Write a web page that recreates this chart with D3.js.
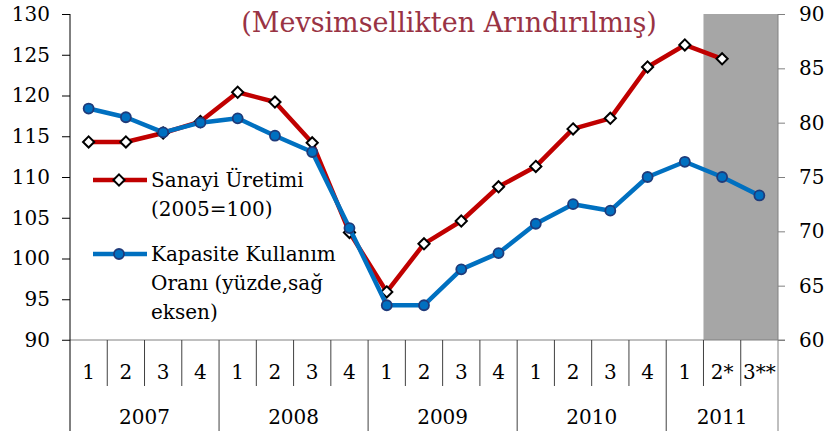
<!DOCTYPE html>
<meta charset="utf-8">
<style>
body { margin: 0; background: #fff; }
text { font-family: "DejaVu Serif", serif; }
</style>
<body>
<script src="https://cdnjs.cloudflare.com/ajax/libs/d3/7.8.5/d3.min.js"></script>
<script>

// data
var quarters = ["1","2","3","4","1","2","3","4","1","2","3","4","1","2","3","4","1","2*","3**"];
var years = ["2007","2008","2009","2010","2011"];
var yearSpan = [4, 4, 4, 4, 3];
var sanayi = [114.3, 114.3, 115.4, 116.8, 120.4, 119.2, 114.2, 103.2, 95.9, 101.8, 104.6, 108.8,
              111.3, 115.9, 117.2, 123.5, 126.2, 124.5];
var kapasite = [81.3, 80.5, 79.1, 80.0, 80.4, 78.8, 77.3, 70.3, 63.2, 63.2, 66.5, 68.0,
                70.7, 72.5, 71.9, 75.0, 76.4, 75.0, 73.3];
var leftTicks = [90, 95, 100, 105, 110, 115, 120, 125, 130];
var rightTicks = [60, 65, 70, 75, 80, 85, 90];
var shaded = [17, 18]; // forecast quarters

var width = 829, height = 433;
var plot = {left: 70, right: 778, top: 14, bottom: 340};

var svg = d3.select("body").append("svg")
    .attr("width", width)
    .attr("height", height);

var x = d3.scaleBand()
    .domain(d3.range(quarters.length))
    .range([plot.left, plot.right]);

var yL = d3.scaleLinear().domain([90, 130]).range([plot.bottom, plot.top]);
var yR = d3.scaleLinear().domain([60, 90]).range([plot.bottom, plot.top]);

// grey shaded forecast area
svg.append("rect")
    .attr("x", x(shaded[0]))
    .attr("y", plot.top)
    .attr("width", x(shaded[shaded.length - 1]) + x.bandwidth() - x(shaded[0]))
    .attr("height", plot.bottom - plot.top)
    .attr("fill", "#a6a6a6");

// title
svg.append("text")
    .attr("x", 449)
    .attr("y", 32)
    .attr("text-anchor", "middle")
    .attr("fill", "#993344")
    .style("font-size", "27px")
    .text("(Mevsimsellikten Arındırılmış)");

// left axis
var axL = svg.append("g")
    .attr("transform", "translate(" + plot.left + ",0)")
    .call(d3.axisLeft(yL).tickValues(leftTicks).tickSize(8).tickPadding(12));
axL.select(".domain").remove();
axL.selectAll("line").attr("stroke", "#000");
axL.selectAll("text").style("font-size", "20px").attr("fill", "#000");

// right axis
var axR = svg.append("g")
    .attr("transform", "translate(" + plot.right + ",0)")
    .call(d3.axisRight(yR).tickValues(rightTicks).tickSize(7).tickPadding(14));
axR.select(".domain").remove();
axR.selectAll("line").attr("stroke", "#808080");
axR.selectAll("text").style("font-size", "20px").attr("fill", "#000");

svg.append("line")
    .attr("x1", plot.right).attr("x2", plot.right)
    .attr("y1", plot.top).attr("y2", 431)
    .attr("stroke", "#808080");

// category axis
svg.append("line")
    .attr("x1", plot.left - 8).attr("x2", plot.right + 7)
    .attr("y1", plot.bottom).attr("y2", plot.bottom)
    .attr("stroke", "#808080");

var yearStarts = [0];
yearSpan.forEach(function(s, i) { yearStarts.push(yearStarts[i] + s); });

svg.append("g").selectAll("line")
    .data(d3.range(1, quarters.length))
    .enter().append("line")
    .attr("x1", function(d) { return x(d); })
    .attr("x2", function(d) { return x(d); })
    .attr("y1", plot.bottom)
    .attr("y2", function(d) { return yearStarts.indexOf(d) >= 0 ? 431 : 386; })
    .attr("stroke", "#404040");

svg.append("line")
    .attr("x1", plot.left).attr("x2", plot.left)
    .attr("y1", plot.top).attr("y2", 431)
    .attr("stroke", "#000");

svg.append("g").selectAll("text")
    .data(quarters)
    .enter().append("text")
    .attr("x", function(d, i) { return x(i) + x.bandwidth() / 2; })
    .attr("y", 379)
    .attr("text-anchor", "middle")
    .style("font-size", "20px")
    .text(function(d) { return d; });

svg.append("g").selectAll("text")
    .data(years)
    .enter().append("text")
    .attr("x", function(d, i) {
      return (x(yearStarts[i]) + x(yearStarts[i]) + yearSpan[i] * x.step()) / 2;
    })
    .attr("y", 424)
    .attr("text-anchor", "middle")
    .style("font-size", "20px")
    .text(function(d) { return d; });

// lines
var cx = function(i) { return x(i) + x.bandwidth() / 2; };

var lineL = d3.line().x(function(d, i) { return cx(i); }).y(function(d) { return yL(d); });
var lineR = d3.line().x(function(d, i) { return cx(i); }).y(function(d) { return yR(d); });

var diamond = d3.symbol().type(d3.symbolDiamond2).size(80);

svg.append("path")
    .datum(sanayi)
    .attr("d", lineL)
    .attr("fill", "none")
    .attr("stroke", "#c00000")
    .attr("stroke-width", 4.5)
    .attr("stroke-linejoin", "round");

svg.append("g").selectAll("path")
    .data(sanayi)
    .enter().append("path")
    .attr("d", diamond)
    .attr("transform", function(d, i) { return "translate(" + cx(i) + "," + yL(d) + ")"; })
    .attr("fill", "#fff")
    .attr("stroke", "#000")
    .attr("stroke-width", 2);

svg.append("path")
    .datum(kapasite)
    .attr("d", lineR)
    .attr("fill", "none")
    .attr("stroke", "#0070c0")
    .attr("stroke-width", 4.5)
    .attr("stroke-linejoin", "round");

svg.append("g").selectAll("circle")
    .data(kapasite)
    .enter().append("circle")
    .attr("cx", function(d, i) { return cx(i); })
    .attr("cy", function(d) { return yR(d); })
    .attr("r", 5)
    .attr("fill", "#0070c0")
    .attr("stroke", "#1f3b7a")
    .attr("stroke-width", 1.8);

// legend
var leg = svg.append("g");
leg.append("line")
    .attr("x1", 93).attr("x2", 147).attr("y1", 180).attr("y2", 180)
    .attr("stroke", "#c00000").attr("stroke-width", 4.5);
leg.append("path")
    .attr("d", diamond)
    .attr("transform", "translate(119,180)")
    .attr("fill", "#fff").attr("stroke", "#000").attr("stroke-width", 2);
leg.append("line")
    .attr("x1", 93).attr("x2", 147).attr("y1", 254).attr("y2", 254)
    .attr("stroke", "#0070c0").attr("stroke-width", 4.5);
leg.append("circle")
    .attr("cx", 119).attr("cy", 254).attr("r", 5)
    .attr("fill", "#0070c0").attr("stroke", "#1f3b7a").attr("stroke-width", 1.8);

var legText = [
  {y: 187, t: "Sanayi Üretimi"},
  {y: 216, t: "(2005=100)"},
  {y: 261, t: "Kapasite Kullanım"},
  {y: 290, t: "Oranı (yüzde,sağ"},
  {y: 319, t: "eksen)"}
];
leg.selectAll("text.leg")
    .data(legText)
    .enter().append("text")
    .attr("class", "leg")
    .attr("x", 151)
    .attr("y", function(d) { return d.y; })
    .style("font-size", "20px")
    .text(function(d) { return d.t; });

</script>
</body>
